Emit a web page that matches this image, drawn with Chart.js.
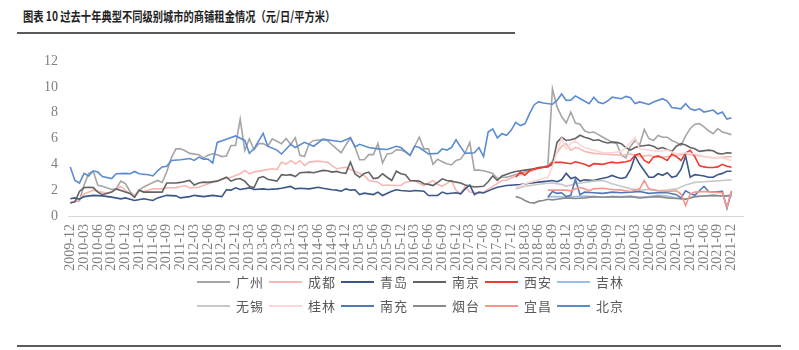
<!DOCTYPE html>
<html>
<head>
<meta charset="utf-8">
<script src="https://cdn.jsdelivr.net/npm/chart.js@4.4.0/dist/chart.umd.min.js"></script>
<style>
  html, body { margin: 0; padding: 0; background: #fff; }
  #wrap { position: relative; width: 799px; height: 350px; overflow: hidden; font-family: "Noto Sans CJK SC", sans-serif; }
  #title { position: absolute; left: 23px; top: 6px; font-size: 13px; font-weight: bold; color: #1f1f1f; white-space: nowrap; transform: scaleX(0.79); transform-origin: left top; }
  #rule { position: absolute; left: 17px; top: 32px; width: 498px; height: 2px; background: #5a5a5a; }
  #foot { position: absolute; left: 17px; top: 345px; width: 764px; height: 2px; background: #5a5a5a; }
  #chart { position: absolute; left: 0; top: 0; }
  #legend { position: absolute; left: 197px; top: 271px; width: 440px; }
  .item { display: inline-flex; align-items: center; width: 72px; height: 21px; vertical-align: top; }
  .item i { display: inline-block; width: 33px; height: 2px; margin-right: 6px; }
  .item span { font-size: 13px; letter-spacing: 1px; color: #595959; }
</style>
</head>
<body>
<div id="wrap">
  <div id="title">图表 10 过去十年典型不同级别城市的商铺租金情况（元/日/平方米）</div>
  <div id="rule"></div>
  <canvas id="chart" width="799" height="350"></canvas>
  <div id="legend"></div>
  <div id="foot"></div>
</div>
<script>
// month index: 0 = 2009-12 ... 144 = 2021-12, values in 元/日/平方米
const quarterLabels = ['2009-12','2010-03','2010-06','2010-09','2010-12','2011-03','2011-06','2011-09','2011-12',
  '2012-03','2012-06','2012-09','2012-12','2013-03','2013-06','2013-09','2013-12','2014-03','2014-06','2014-09',
  '2014-12','2015-03','2015-06','2015-09','2015-12','2016-03','2016-06','2016-09','2016-12','2017-03','2017-06',
  '2017-09','2017-12','2018-03','2018-06','2018-09','2018-12','2019-03','2019-06','2019-09','2019-12','2020-03',
  '2020-06','2020-09','2020-12','2021-03','2021-06','2021-09','2021-12'];

const cities = ['广州','成都','青岛','南京','西安','吉林','无锡','桂林','南充','烟台','宜昌','北京'];

const guangzhou = [[0,1.05],[2,1.2],[3,2.4],[4,3.3],[5,3.45],[6,2.37],[7,2.3],[9,2.05],[10,2.1],[11,2.7],[12,2.5],
  [13,1.9],[14,1.55],[15,2.0],[16,2.25],[18,2.6],[19,2.75],[20,2.6],[21,3.4],[22,4.5],[23,5.2],[24,5.2],[25,5.05],
  [26,4.85],[28,4.75],[29,4.5],[30,4.7],[31,4.82],[32,4.75],[33,4.6],[34,4.65],[35,5.46],[36,5.46],[37,7.5],
  [38,5.08],[39,5.98],[40,5.13],[41,5.6],[42,5.6],[43,5.4],[44,5.98],[46,5.6],[47,6.0],[48,5.55],[49,6.05],
  [50,4.7],[51,4.6],[52,5.6],[53,5.85],[55,5.9],[56,5.85],[57,5.5],[58,5.2],[59,4.9],[60,5.5],[61,6.06],[62,5.35],
  [63,4.35],[64,4.35],[65,4.75],[66,4.75],[67,5.6],[68,4.1],[69,4.8],[70,4.85],[71,5.13],[72,5.1],[73,4.95],
  [74,4.69],[75,5.4],[76,6.1],[77,5.2],[78,5.2],[79,4.0],[80,4.4],[81,4.2],[82,4.04],[83,3.95],[84,4.3],[85,4.4],
  [86,4.9],[87,5.7],[88,3.55],[89,3.55],[90,3.5],[91,3.4],[92,3.3],[93,2.9],[94,3.0],[95,3.0],[96,3.1],[98,3.3],
  [100,3.5],[102,3.7],[104,3.9],[105,9.85],[106,8.45],[107,7.7],[108,7.2],[109,8.05],[110,7.2],[111,7.1],
  [112,6.6],[113,6.45],[114,6.5],[115,6.3],[116,6.1],[117,5.9],[118,5.72],[119,5.6],[120,4.7],[121,4.5],
  [122,5.4],[123,5.85],[124,5.5],[125,6.7],[126,6.0],[127,5.85],[128,6.24],[129,6.1],[130,6.1],[131,5.85],
  [132,5.7],[133,5.46],[134,6.2],[135,6.76],[136,7.1],[137,7.15],[138,6.9],[139,6.6],[140,6.37],[141,6.76],
  [142,6.5],[143,6.4],[144,6.3]];

const chengdu = [[0,1.0],[2,1.3],[3,1.7],[5,2.0],[6,1.92],[8,1.77],[9,1.85],[10,2.1],[11,2.29],[12,1.98],[13,1.72],
  [14,1.6],[15,1.98],[16,1.9],[18,2.1],[20,2.1],[21,2.18],[23,2.2],[25,2.36],[26,2.18],[28,2.23],[29,2.36],
  [31,2.62],[33,2.85],[35,3.0],[37,3.27],[38,3.53],[39,3.27],[40,3.4],[42,3.53],[44,3.66],[45,3.6],[46,4.17],
  [47,4.0],[48,4.3],[49,4.04],[50,4.3],[51,3.9],[52,4.17],[54,4.25],[55,4.2],[56,4.17],[57,3.9],[58,3.66],
  [60,3.78],[61,3.6],[62,3.47],[64,3.14],[65,2.75],[67,2.62],[68,2.36],[69,2.4],[71,2.36],[72,2.36],[73,2.62],
  [75,2.75],[76,2.54],[77,2.36],[79,2.75],[80,2.45],[81,2.29],[83,2.75],[84,1.98],[85,1.72],[86,2.29],[87,1.85],
  [89,1.77],[90,1.85],[92,2.29],[94,2.75],[95,2.78],[97,3.1],[99,3.3],[101,3.55],[102,3.75],[104,3.85],[105,4.3],
  [106,4.9],[107,5.4],[108,5.6],[109,5.1],[110,5.3],[111,5.2],[112,5.0],[114,4.85],[116,4.8],[118,4.75],[120,4.7],
  [122,4.8],[124,4.6],[126,4.7],[128,4.55],[130,4.6],[132,4.7],[134,4.8],[136,4.7],[138,4.6],[140,4.5],[142,4.55],
  [144,4.6]];

const qingdao = [[0,1.33],[1,1.4],[2,1.3],[3,1.5],[5,1.6],[7,1.56],[9,1.46],[11,1.33],[12,1.4],[14,1.2],[16,1.33],
  [18,1.2],[19,1.4],[21,1.6],[23,1.56],[24,1.4],[26,1.5],[27,1.6],[29,1.5],[31,1.6],[33,1.5],[34,2.03],[35,2.0],
  [36,2.18],[37,2.05],[39,2.18],[40,2.05],[42,2.1],[43,2.05],[45,2.1],[46,2.15],[48,2.29],[49,2.1],[50,2.15],
  [52,2.1],[54,2.23],[55,2.15],[57,2.03],[58,2.0],[59,1.92],[60,2.1],[61,2.0],[62,2.03],[63,1.66],[64,1.77],
  [66,1.66],[67,1.85],[68,1.59],[70,1.92],[71,2.03],[72,1.97],[74,1.92],[75,1.97],[77,1.92],[78,1.59],[80,1.59],
  [81,1.85],[82,1.72],[84,1.8],[85,1.72],[86,2.1],[87,2.4],[88,1.66],[89,1.85],[90,1.78],[92,2.1],[93,2.23],
  [95,2.36],[98,2.44],[100,2.54],[102,2.62],[104,2.7],[105,2.75],[106,2.65],[107,2.8],[108,3.3],[109,2.9],
  [110,3.0],[111,2.7],[112,2.8],[114,2.75],[115,2.85],[117,3.0],[118,3.14],[119,3.0],[120,2.9],[121,3.0],
  [122,3.6],[123,4.65],[124,4.0],[125,3.5],[126,3.0],[127,3.0],[128,3.27],[129,3.15],[130,3.35],[131,3.0],
  [132,3.1],[133,3.6],[134,4.65],[135,3.0],[136,3.2],[137,3.15],[138,3.1],[139,3.0],[140,3.0],[141,3.2],
  [142,3.3],[143,3.47],[144,3.47]];

const nanjing = [[0,1.0],[1,1.1],[2,1.9],[3,2.2],[4,2.23],[5,2.2],[6,1.85],[7,1.65],[9,1.85],[10,2.1],[12,1.85],
  [13,1.75],[14,1.45],[15,2.0],[16,1.85],[19,1.85],[20,1.85],[21,2.55],[23,2.55],[24,2.6],[26,2.75],[27,2.4],
  [28,2.55],[29,2.62],[30,2.6],[32,2.7],[34,3.0],[35,2.7],[36,2.85],[37,2.9],[38,2.7],[39,2.3],[40,2.18],
  [41,2.95],[42,3.05],[43,2.85],[45,2.7],[46,3.2],[47,3.15],[48,3.2],[49,3.05],[50,3.35],[52,3.4],[53,3.35],
  [55,3.53],[56,3.5],[57,3.4],[58,3.45],[59,3.35],[60,3.3],[61,4.17],[62,3.27],[63,3.0],[64,3.3],[65,3.4],
  [66,2.9],[67,2.95],[68,3.27],[69,3.0],[70,2.75],[71,3.47],[72,3.27],[73,3.2],[74,2.75],[76,2.7],[77,2.5],
  [78,2.45],[79,2.36],[80,2.6],[81,2.88],[82,2.75],[83,2.7],[84,2.62],[85,2.55],[86,2.4],[88,2.25],[90,2.3],
  [91,2.65],[92,3.1],[93,2.75],[94,3.1],[96,3.35],[97,3.45],[99,3.55],[101,3.65],[102,3.75],[104,3.8],[105,4.0],
  [106,5.7],[107,6.1],[108,5.85],[109,5.9],[110,6.0],[111,6.25],[112,6.1],[113,6.0],[114,5.85],[115,5.9],
  [116,5.75],[117,5.65],[118,5.72],[119,5.7],[120,5.6],[121,5.3],[122,5.1],[123,5.3],[124,5.4],[126,5.5],
  [127,5.4],[128,5.2],[129,5.3],[131,5.0],[132,5.4],[133,5.6],[134,5.5],[135,5.3],[136,5.2],[137,5.0],
  [139,5.1],[140,5.05],[141,4.85],[142,4.8],[143,4.9],[144,4.87]];

const xian = [[97,3.0],[98,3.4],[99,3.15],[100,3.5],[101,3.65],[103,3.75],[104,3.85],[105,4.15],[107,4.15],
  [109,4.05],[110,4.2],[111,4.1],[112,4.0],[113,3.85],[114,4.05],[116,4.0],[117,4.1],[118,4.17],[119,4.1],
  [120,4.15],[121,4.2],[122,4.3],[123,4.7],[124,4.82],[125,4.3],[126,4.1],[127,4.56],[128,4.65],[129,4.5],
  [130,4.3],[131,4.8],[132,4.6],[133,4.3],[134,4.87],[135,5.08],[136,4.6],[137,3.9],[138,3.8],[139,3.75],
  [140,3.75],[141,3.8],[142,4.0],[143,3.85],[144,3.78]];

const jilin = [[104,1.5],[106,1.5],[108,1.45],[110,1.5],[112,1.55],[114,1.5],[116,1.45],[118,1.5],[120,1.5],
  [122,1.55],[124,1.45],[126,1.5],[128,1.6],[130,1.55],[132,1.4],[134,1.3],[136,1.5],[138,1.55],[140,1.6],
  [142,1.55],[144,1.5]];

const wuxi = [[97,2.1],[99,2.3],[101,2.4],[103,2.5],[105,2.55],[107,2.45],[108,2.3],[110,2.5],[112,2.6],
  [114,2.7],[116,2.75],[118,2.5],[120,2.3],[122,2.1],[124,2.0],[126,2.05],[128,1.95],[130,2.0],[132,2.1],
  [134,2.4],[136,2.6],[138,2.65],[140,2.7],[142,2.75],[144,2.8]];

const guilin = [[97,2.2],[99,2.5],[101,2.7],[103,2.9],[104,3.0],[105,3.8],[106,5.0],[107,6.0],[108,5.2],
  [109,5.6],[110,5.8],[111,5.5],[112,5.3],[114,5.1],[116,4.9],[118,4.9],[120,5.0],[121,5.3],[123,6.1],
  [124,5.2],[126,5.1],[128,5.0],[130,5.1],[132,4.8],[134,4.9],[136,4.8],[138,4.6],[140,4.5],[142,4.5],[144,4.3]];

const nanchong = [[104,1.45],[105,1.9],[106,1.75],[107,1.8],[108,1.5],[109,1.6],[110,2.85],[111,1.65],
  [112,1.85],[114,1.8],[116,1.75],[118,1.85],[120,1.8],[122,1.85],[124,1.9],[126,1.75],[128,1.8],[130,1.8],
  [132,1.65],[133,1.4],[134,1.95],[135,1.75],[136,1.6],[138,2.3],[139,1.9],[140,1.85],[142,1.9],[143,0.6],
  [144,1.9]];

const yantai = [[97,1.5],[98,1.4],[99,1.2],[100,1.05],[101,1.0],[102,1.15],[103,1.2],[104,1.3],[105,1.25],
  [106,1.3],[108,1.4],[110,1.35],[112,1.4],[114,1.5],[116,1.45],[118,1.5],[120,1.45],[122,1.5],[124,1.4],
  [126,1.45],[128,1.5],[130,1.4],[132,1.35],[134,1.3],[136,1.5],[138,1.55],[140,1.6],[142,1.55],[144,1.6]];

const yichang = [[104,2.0],[106,2.0],[108,2.0],[109,1.95],[110,2.1],[111,2.2],[112,2.1],[113,1.95],[114,2.1],
  [116,2.15],[118,2.05],[120,2.0],[122,1.9],[124,2.1],[125,2.75],[126,2.1],[128,1.95],[130,1.9],[132,1.95],
  [133,1.7],[134,0.8],[135,1.7],[136,1.85],[138,1.9],[140,1.85],[142,1.8],[143,0.65],[144,1.95]];

const beijing = [[0,3.8],[1,2.75],[2,2.55],[3,3.3],[4,3.1],[5,3.5],[6,3.4],[7,3.05],[9,2.9],[10,3.27],[12,3.3],
  [13,3.27],[14,3.45],[15,3.27],[17,3.2],[18,3.1],[19,3.5],[20,3.8],[21,3.85],[22,4.3],[24,4.35],[26,4.45],
  [27,4.3],[28,4.56],[29,4.4],[30,4.4],[31,4.1],[32,5.7],[34,5.95],[36,6.2],[38,5.85],[39,4.85],[40,5.2],
  [42,6.4],[43,5.4],[45,5.1],[46,4.8],[48,5.55],[49,5.3],[51,5.7],[53,5.4],[55,5.95],[57,5.85],[59,5.75],
  [61,6.05],[62,5.35],[63,5.55],[65,5.3],[67,5.2],[69,5.15],[71,5.4],[72,5.3],[74,4.7],[75,5.4],[76,5.3],
  [78,4.8],[80,4.85],[81,5.2],[82,5.1],[83,5.3],[84,5.9],[85,5.35],[86,4.85],[88,4.9],[89,5.3],[90,4.6],
  [91,6.5],[92,6.75],[93,6.05],[94,6.37],[95,6.25],[96,6.63],[97,7.25],[98,7.0],[99,7.14],[100,7.9],[101,8.6],
  [102,8.85],[103,8.75],[105,8.65],[106,8.95],[107,9.45],[108,8.95],[109,8.97],[110,9.3],[111,9.1],[113,8.7],
  [114,9.2],[115,8.8],[116,8.7],[117,8.9],[118,9.2],[120,9.08],[121,9.26],[122,9.16],[123,8.7],[124,8.83],
  [126,8.64],[127,8.83],[129,9.08],[130,8.9],[131,8.4],[133,8.3],[134,8.7],[135,8.3],[136,8.18],[137,8.3],
  [138,8.05],[140,8.2],[141,7.9],[142,8.05],[143,7.5],[144,7.6]];

const series = [guangzhou, chengdu, qingdao, nanjing, xian, jilin, wuxi, guilin, nanchong, yantai, yichang, beijing];
const lineColors = ['#a5a5a5', '#f6b8b5', '#3b5687', '#636363', '#ee3b2f', '#9dbde6',
                    '#c8c8c8', '#fbd6d4', '#5277b3', '#8a8a8a', '#f5968c', '#5b8bd0'];

Chart.defaults.font.family = '"Liberation Serif", serif';
Chart.defaults.font.size = 14;
Chart.defaults.color = '#7f7f7f';

const datasets = cities.map((name, k) => ({
  label: name,
  data: series[k].map(([x, y]) => ({ x: x, y: y })),
  borderColor: lineColors[k],
  backgroundColor: lineColors[k],
  borderWidth: 1.6,
  pointRadius: 0,
  tension: 0,
  order: cities.length - k
}));

new Chart(document.getElementById('chart'), {
  type: 'line',
  data: { datasets: datasets },
  options: {
    responsive: false,
    animation: false,
    layout: { padding: { left: 44, right: 56, top: 61, bottom: 78 } },
    plugins: { legend: { display: false }, tooltip: { enabled: false } },
    scales: {
      x: {
        type: 'linear',
        min: -0.5,
        max: 146.5,
        afterBuildTicks: function (scale) {
          scale.ticks = quarterLabels.map((l, k) => ({ value: k * 3 }));
        },
        afterFit: function (scale) { scale.height = 56; },
        grid: { display: false, drawTicks: false },
        border: { display: true, color: '#d9d9d9', width: 1 },
        ticks: {
          autoSkip: false,
          maxRotation: 90,
          minRotation: 90,
          padding: 8,
          callback: function (value, index) { return quarterLabels[index]; }
        }
      },
      y: {
        min: 0,
        max: 12,
        afterFit: function (scale) { scale.width = 24; },
        grid: { display: false, drawTicks: false },
        border: { display: false },
        ticks: { stepSize: 2, padding: 10 }
      }
    }
  }
});

// legend, two rows of six like the original
const legend = document.getElementById('legend');
cities.forEach((name, k) => {
  const item = document.createElement('div');
  item.className = 'item';
  item.innerHTML = '<i style="background:' + lineColors[k] + '"></i><span>' + name + '</span>';
  legend.appendChild(item);
});
</script>
</body>
</html>
